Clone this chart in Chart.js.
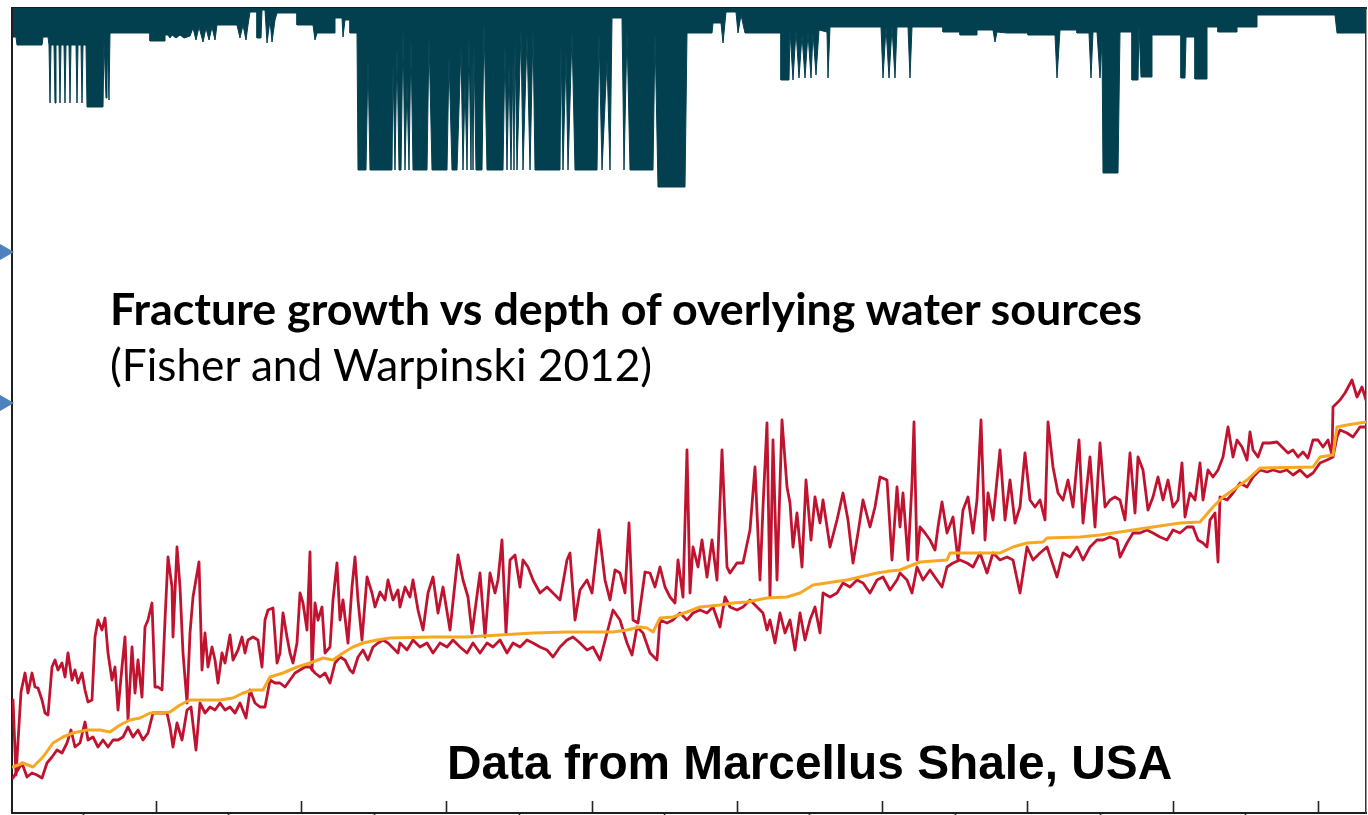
<!DOCTYPE html>
<html>
<head>
<meta charset="utf-8">
<script src="https://cdn.jsdelivr.net/npm/chart.js@4.4.1/dist/chart.umd.min.js"></script>
<style>
  html, body { margin:0; padding:0; background:#fff; }
  #wrap { position:relative; width:1368px; height:815px; overflow:hidden; }
  #c { position:absolute; left:0; top:0; }
  .txt { position:absolute; white-space:nowrap; line-height:1; color:#000; }
  #t1 { font-family: Lato, "Open Sans", sans-serif; font-weight:700; font-size:38px; }
  #t2 { font-family: Lato, "Open Sans", sans-serif; font-weight:400; font-size:38px; }
  #t3 { font-family: "Liberation Sans", Arial, sans-serif; font-weight:700; font-size:48px; }
</style>
</head>
<body>
<div id="wrap">
  <canvas id="c" width="1368" height="815"></canvas>
  <div class="txt" id="t1">Fracture growth vs depth of overlying water sources</div>
  <div class="txt" id="t2">(Fisher and Warpinski 2012)</div>
  <div class="txt" id="t3">Data from Marcellus Shale, USA</div>
</div>
<script>
// ---- DATA: x = stage rank (sorted by perforation depth), y = depth in ft (0 at surface) ----
// Deepest water well depth above the stages (filled from surface down)
const waterDepth = [[1,290],[4,290],[5,370],[30,370],[31,290],[36,290],[37,370],[38,950],[39,370],[42,370],[43,950],[44,370],[47,370],[48,950],[49,370],[52,370],[53,950],[54,370],[57,370],[58,950],[59,370],[64,370],[65,950],[66,370],[69,370],[70,950],[71,370],[74,370],[75,990],[91,990],[92,320],[94,900],[95,320],[97,920],[98,250],[138,250],[138,330],[153,330],[153,270],[156,270],[158,300],[160,270],[164,300],[168,270],[172,300],[178,280],[181,200],[184,320],[187,190],[191,340],[194,200],[197,320],[200,190],[203,320],[205,170],[225,170],[228,300],[231,170],[234,320],[236,170],[238,40],[245,40],[245,300],[249,300],[250,20],[253,20],[255,350],[258,120],[260,340],[263,120],[265,50],[285,50],[285,170],[301,170],[303,320],[305,250],[323,250],[323,100],[330,100],[331,290],[333,120],[338,120],[338,250],[345,250],[346,1620],[354,1620],[356,500],[358,1620],[380,1620],[381,550],[383,1620],[385,390],[387,1620],[389,1620],[391,220],[393,1620],[395,750],[397,1620],[399,320],[401,1620],[415,1620],[417,290],[420,1620],[435,1620],[437,490],[440,1620],[445,1620],[449,390],[451,1620],[453,750],[455,1620],[457,290],[459,1620],[460,490],[461,1620],[462,370],[464,1620],[470,1620],[472,150],[475,1620],[491,1620],[493,370],[495,1620],[497,570],[499,1620],[501,520],[502,1620],[503,320],[505,1620],[509,220],[511,1620],[515,270],[518,1620],[521,220],[523,1620],[548,1620],[549,350],[551,1620],[554,440],[556,1620],[560,250],[563,1620],[585,1620],[587,250],[590,1620],[595,520],[598,1620],[600,100],[610,100],[612,1620],[615,220],[618,1620],[641,1620],[643,250],[646,1790],[673,1790],[675,250],[700,250],[701,150],[709,150],[711,350],[714,40],[724,40],[726,250],[729,70],[733,250],[769,250],[769,720],[777,720],[778,220],[781,720],[784,220],[787,700],[790,270],[793,700],[796,250],[799,700],[801,250],[804,670],[807,220],[815,240],[816,700],[818,190],[869,190],[871,700],[874,190],[877,700],[880,190],[883,700],[885,190],[896,190],[898,700],[900,190],[931,190],[931,240],[948,240],[948,270],[965,270],[965,220],[981,220],[983,340],[985,240],[995,250],[1016,250],[1016,270],[1043,270],[1045,700],[1048,220],[1065,220],[1065,250],[1077,250],[1079,700],[1081,240],[1085,240],[1088,700],[1090,320],[1091,1650],[1106,1650],[1108,240],[1120,240],[1120,720],[1126,720],[1127,170],[1129,690],[1140,690],[1140,270],[1169,270],[1169,700],[1173,700],[1174,290],[1183,290],[1183,710],[1195,710],[1195,190],[1206,190],[1206,240],[1225,240],[1225,190],[1245,190],[1245,70],[1323,70],[1325,250],[1354,250]];

// Top of fracture growth
const fracTop = [[1,6920],[4,7670],[9,6840],[13,6650],[16,6850],[20,6650],[23,6790],[26,6800],[30,6920],[33,7050],[36,7070],[40,6590],[43,6520],[46,6620],[50,6550],[53,6690],[56,6450],[60,6720],[63,6620],[66,6750],[70,6650],[73,6820],[76,6940],[80,6920],[83,6290],[86,6120],[90,6220],[93,6100],[96,6450],[100,6720],[103,6590],[106,7020],[110,6590],[113,6290],[116,7120],[120,6390],[123,6850],[126,6520],[130,6890],[133,6190],[136,6120],[140,5950],[143,6790],[146,6790],[150,6820],[153,6120],[156,5490],[160,5790],[161,6290],[165,5390],[168,5790],[171,6450],[175,6950],[178,6250],[181,5890],[187,5540],[190,6620],[193,6250],[196,6590],[200,6390],[203,6520],[206,6750],[210,6450],[213,6550],[218,6270],[221,6520],[226,6420],[230,6290],[233,6450],[236,6320],[241,6290],[246,6320],[250,6590],[253,6120],[256,6020],[261,6000],[265,6550],[268,6450],[271,6050],[275,6290],[278,6450],[281,6550],[285,6350],[288,5850],[291,5950],[295,6220],[298,5440],[300,6620],[303,5950],[306,6120],[310,5990],[313,6450],[318,6390],[321,5920],[325,5550],[328,6120],[331,5920],[336,6350],[340,5790],[343,5490],[346,5920],[350,6320],[355,5690],[360,5850],[363,5990],[368,5840],[373,5920],[376,5720],[381,5920],[386,5820],[388,5990],[393,5790],[398,5890],[401,5720],[406,6020],[411,6220],[416,5850],[421,5690],[426,6050],[431,5790],[438,6220],[446,5470],[451,5720],[456,5890],[460,6250],[468,5650],[473,6290],[478,5650],[483,5850],[486,5720],[490,5320],[494,6250],[498,5520],[503,5470],[508,5790],[511,5520],[516,5590],[521,5720],[528,5850],[535,5790],[541,5850],[548,5920],[555,5520],[558,5450],[563,6120],[568,5820],[575,5720],[580,5850],[587,5220],[593,5720],[598,5920],[603,5620],[608,5650],[613,5850],[617,5150],[621,6120],[626,6150],[633,5640],[638,5650],[643,5790],[648,5590],[653,5790],[658,5890],[663,5950],[666,5520],[671,5890],[675,4420],[678,5850],[681,5390],[686,5590],[690,5320],[695,5690],[700,5320],[705,5720],[710,4420],[715,5590],[718,5650],[725,5550],[731,5550],[738,5220],[743,4590],[748,5720],[751,4990],[755,4150],[758,5890],[761,4320],[765,5720],[770,4120],[775,4790],[778,4950],[781,5390],[785,5050],[790,5590],[794,4720],[799,5320],[803,4890],[808,5150],[811,4920],[818,5390],[825,5120],[831,4850],[836,5120],[841,5550],[846,5250],[851,4920],[858,5190],[863,4990],[868,4690],[875,4720],[880,5520],[885,4790],[888,5190],[891,4850],[896,5520],[900,4750],[902,4140],[905,5520],[908,5190],[913,5250],[918,5320],[923,5420],[926,5190],[930,4940],[935,5250],[941,5090],[946,5520],[951,5020],[956,4890],[961,5250],[965,4920],[969,4120],[973,5320],[976,4850],[981,5120],[988,4420],[993,5120],[998,4720],[1003,5150],[1008,4990],[1013,4450],[1018,4920],[1023,4990],[1028,4920],[1033,5120],[1036,4140],[1041,4590],[1046,4850],[1051,4920],[1056,4720],[1061,4990],[1067,4320],[1071,5150],[1078,4490],[1083,5190],[1088,4350],[1093,4990],[1098,4920],[1103,4890],[1108,4920],[1113,5120],[1118,4450],[1123,5050],[1126,4490],[1131,4620],[1136,5020],[1141,4890],[1146,4690],[1151,4920],[1156,4720],[1161,4990],[1166,4920],[1170,4550],[1173,5090],[1178,4850],[1183,4920],[1188,4550],[1191,4920],[1196,4620],[1201,4690],[1206,4620],[1211,4490],[1216,4190],[1221,4490],[1225,4320],[1230,4390],[1235,4520],[1238,4240],[1241,4420],[1246,4490],[1251,4350],[1258,4350],[1265,4340],[1271,4400],[1276,4450],[1281,4420],[1286,4490],[1291,4440],[1296,4500],[1301,4320],[1306,4320],[1311,4390],[1316,4320],[1320,4470],[1321,3990],[1325,3950],[1328,3920],[1333,3850],[1340,3720],[1345,3890],[1350,3790],[1354,3920]];

// Bottom of fracture growth
const fracBottom = [[1,7700],[4,7650],[10,7550],[15,7690],[20,7650],[25,7670],[30,7700],[35,7550],[40,7490],[45,7420],[50,7450],[55,7350],[59,7220],[63,7390],[68,7350],[73,7140],[76,7320],[81,7290],[86,7390],[91,7320],[96,7390],[101,7320],[106,7320],[111,7290],[116,7190],[121,7290],[126,7220],[131,7320],[136,7250],[141,7050],[146,7050],[151,7050],[155,7050],[158,7190],[161,7390],[165,7150],[170,7320],[175,7020],[179,6990],[184,7420],[188,6950],[193,7050],[198,6990],[203,7020],[208,6950],[213,7020],[218,6990],[223,7050],[228,6950],[234,7100],[238,6820],[243,6950],[248,6990],[253,6990],[258,6720],[263,6750],[268,6750],[273,6790],[278,6720],[283,6650],[288,6620],[293,6590],[298,6590],[303,6650],[308,6690],[313,6650],[318,6750],[323,6550],[328,6490],[333,6520],[338,6620],[341,6650],[346,6490],[351,6420],[356,6520],[361,6390],[366,6350],[371,6320],[376,6350],[381,6400],[386,6450],[388,6350],[395,6420],[401,6320],[408,6390],[415,6350],[421,6450],[428,6350],[435,6390],[441,6320],[448,6390],[455,6450],[461,6350],[468,6450],[475,6350],[481,6390],[488,6320],[495,6450],[501,6350],[508,6390],[515,6320],[521,6350],[528,6390],[535,6420],[541,6490],[548,6390],[555,6320],[561,6290],[568,6350],[575,6420],[581,6390],[588,6520],[595,6250],[601,6020],[608,6120],[615,6350],[620,6470],[625,6190],[631,6250],[638,6450],[645,6520],[648,6120],[655,6150],[661,6120],[668,6050],[675,6120],[681,6050],[688,6020],[695,6050],[701,5990],[708,6190],[713,5890],[718,5990],[725,6020],[731,5990],[738,5920],[745,5990],[751,6050],[755,6220],[758,6120],[763,6350],[768,6050],[773,6250],[778,6120],[783,6420],[788,6050],[793,6320],[798,6120],[803,5990],[808,6250],[811,5850],[818,5890],[825,5850],[831,5750],[838,5790],[845,5720],[851,5750],[858,5850],[865,5720],[871,5690],[878,5820],[885,5720],[888,5650],[895,5720],[900,5850],[905,5590],[911,5720],[918,5620],[925,5720],[930,5790],[935,5590],[941,5550],[948,5520],[955,5550],[961,5590],[968,5450],[975,5650],[981,5450],[988,5520],[995,5490],[1001,5520],[1008,5850],[1015,5390],[1021,5520],[1028,5450],[1035,5390],[1045,5690],[1051,5450],[1058,5490],[1065,5390],[1071,5520],[1078,5390],[1085,5320],[1091,5320],[1098,5290],[1105,5320],[1108,5490],[1115,5350],[1121,5250],[1128,5250],[1135,5220],[1141,5250],[1148,5290],[1155,5320],[1161,5220],[1168,5250],[1175,5190],[1181,5190],[1186,5320],[1191,5350],[1195,5390],[1198,5120],[1203,5050],[1206,5540],[1208,4890],[1215,4920],[1221,4850],[1228,4750],[1235,4790],[1241,4690],[1248,4620],[1255,4640],[1261,4620],[1268,4640],[1275,4620],[1281,4670],[1288,4620],[1295,4690],[1301,4650],[1308,4550],[1315,4520],[1321,4490],[1325,4290],[1328,4220],[1335,4250],[1341,4290],[1348,4190],[1354,4190]];

// Perforation depth (stages sorted)
const perfDepth = [[1,7590],[11,7550],[21,7590],[31,7490],[41,7350],[51,7290],[61,7250],[75,7220],[88,7220],[98,7240],[108,7170],[118,7120],[128,7100],[138,7050],[148,7050],[158,7040],[168,6970],[178,6920],[208,6920],[221,6900],[231,6850],[241,6820],[251,6820],[258,6690],[271,6650],[285,6590],[298,6550],[311,6500],[321,6520],[331,6450],[341,6390],[351,6350],[365,6320],[378,6300],[421,6290],[455,6290],[488,6270],[521,6250],[555,6240],[601,6240],[615,6220],[628,6190],[635,6200],[641,6240],[648,6100],[661,6090],[675,6040],[688,5990],[708,5970],[721,5950],[735,5940],[755,5900],[775,5890],[788,5850],[801,5770],[821,5740],[835,5720],[848,5690],[865,5650],[878,5630],[888,5620],[908,5540],[935,5520],[938,5450],[988,5450],[1001,5390],[1015,5350],[1031,5340],[1035,5300],[1068,5290],[1088,5270],[1121,5220],[1141,5190],[1168,5150],[1188,5140],[1201,4990],[1211,4890],[1221,4820],[1235,4720],[1248,4600],[1301,4590],[1308,4490],[1321,4470],[1325,4190],[1335,4170],[1354,4140]];

// Slide arrows pointing at the depth axis
const arrowMarks = [[-10,2440],[-10,3950]];

// Axis ranges and tick layout
const stageMax = 1354;
const depthMax = 8050;
const xTickFirst = 71, xTickStep = 72.65, xTickCount = 18;

const toXY = arr => arr.map(p => ({x: p[0], y: p[1]}));

const tickPlugin = {
  id: 'stageTicks',
  afterDraw(chart) {
    const xs = chart.scales.x, ctx = chart.ctx, b = chart.chartArea.bottom;
    ctx.save();
    ctx.strokeStyle = '#222';
    ctx.lineWidth = 1.6;
    for (let k = 0; k < xTickCount; k++) {
      const v = xTickFirst + k * xTickStep;
      const px = Math.round(xs.getPixelForValue(v)) + 0.5;
      ctx.beginPath();
      if (k % 2 === 0) { ctx.moveTo(px, b); ctx.lineTo(px, b + 5); }
      else { ctx.moveTo(px, b); ctx.lineTo(px, b - 12); }
      ctx.stroke();
    }
    ctx.restore();
  }
};

const lineBase = { pointRadius: 0, tension: 0, fill: false, borderJoinStyle: 'round', borderCapStyle: 'round' };

new Chart(document.getElementById('c'), {
  type: 'line',
  data: {
    datasets: [
      Object.assign({}, lineBase, { label: 'Perforation depth', data: toXY(perfDepth), borderColor: '#f7a823', borderWidth: 3, order: 1 }),
      Object.assign({}, lineBase, { label: 'Fracture bottom', data: toXY(fracBottom), borderColor: '#c0132f', borderWidth: 2.8, order: 2 }),
      Object.assign({}, lineBase, { label: 'Fracture top', data: toXY(fracTop), borderColor: '#c0132f', borderWidth: 2.8, order: 3 }),
      Object.assign({}, lineBase, { label: 'Deepest water well', data: toXY(waterDepth), borderColor: '#023f4f', backgroundColor: '#023f4f', borderWidth: 1, fill: { value: 0 }, borderJoinStyle: 'miter', order: 4 }),
      { type: 'scatter', label: 'arrows', data: toXY(arrowMarks), pointStyle: 'triangle', rotation: 90, pointRadius: 12, backgroundColor: '#4f81bd', borderColor: '#4f81bd', borderWidth: 0, clip: false, order: 0 }
    ]
  },
  options: {
    responsive: false,
    animation: false,
    events: [],
    layout: { autoPadding: false, padding: { left: 12, top: 8, right: 2, bottom: 2 } },
    plugins: { legend: { display: false }, tooltip: { enabled: false }, title: { display: false } },
    scales: {
      x: { type: 'linear', position: 'bottom', min: 0, max: stageMax, ticks: { display: false }, grid: { display: false, drawTicks: false }, border: { display: true, color: '#1e1e1e', width: 2 } },
      xTop: { type: 'linear', position: 'top', min: 0, max: stageMax, ticks: { display: false }, grid: { display: false, drawTicks: false }, border: { display: true, color: '#1e1e1e', width: 2 } },
      y: { type: 'linear', position: 'left', reverse: true, min: 0, max: depthMax, ticks: { display: false }, grid: { display: false, drawTicks: false }, border: { display: true, color: '#1e1e1e', width: 2 } },
      yRight: { type: 'linear', position: 'right', reverse: true, min: 0, max: depthMax, ticks: { display: false }, grid: { display: false, drawTicks: false }, border: { display: true, color: '#333', width: 1.5 } }
    }
  },
  plugins: [tickPlugin]
});

// ---- text placement: fit to measured width, align baseline ----
function place(id, left, baseline, width) {
  const el = document.getElementById(id);
  el.style.left = left + 'px';
  el.style.top = '0px';
  const w = el.getBoundingClientRect().width;
  const fs = parseFloat(getComputedStyle(el).fontSize);
  el.style.fontSize = (fs * width / w).toFixed(2) + 'px';
  let m = el.querySelector('.bm');
  if (!m) { m = document.createElement('span'); m.className = 'bm'; m.style.display = 'inline-block'; m.style.width = '0'; m.style.height = '0'; el.appendChild(m); }
  el.style.top = (baseline - m.offsetTop) + 'px';
}
function layoutText() {
  place('t1', 110, 325, 1032);
  place('t2', 110, 381, 542);
  place('t3', 447, 779, 725);
}
layoutText();
if (document.fonts && document.fonts.ready) document.fonts.ready.then(layoutText);
</script>
</body>
</html>
